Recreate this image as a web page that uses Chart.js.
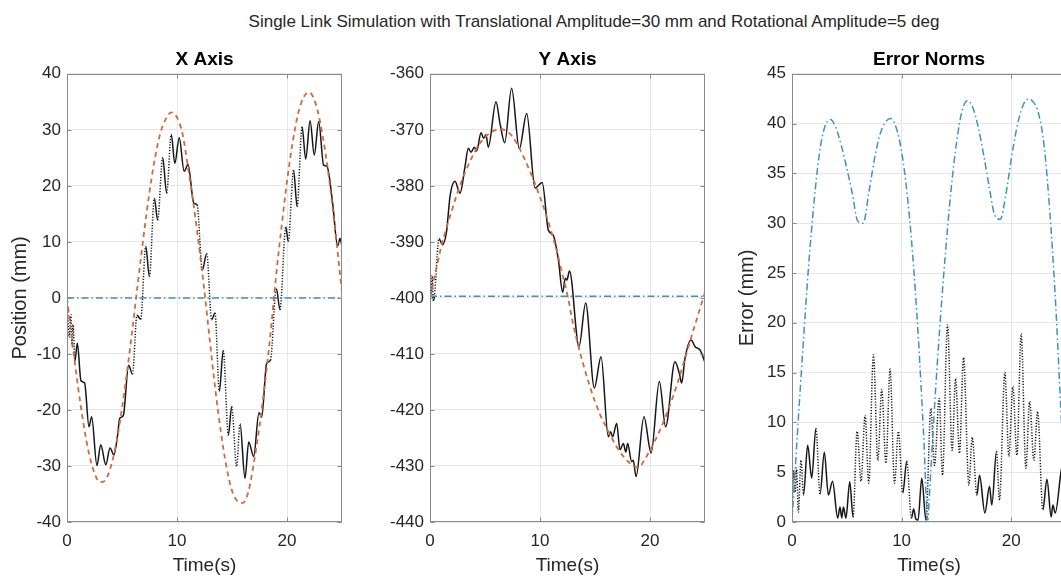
<!DOCTYPE html>
<html><head><meta charset="utf-8">
<script src="https://cdn.jsdelivr.net/npm/chart.js@4.4.1/dist/chart.umd.min.js"></script>
<style>
html,body{margin:0;padding:0;background:#fff;overflow:hidden;width:1061px;height:581px;}
#wrap{position:relative;width:1061px;height:581px;overflow:hidden;background:#fff;}
canvas{position:absolute;top:0;}
#suptitle{position:absolute;left:0;width:1188px;top:12px;line-height:20px;text-align:center;font-family:"Liberation Sans",Arial,sans-serif;font-size:17px;color:#262626;white-space:nowrap;}
</style></head>
<body><div id="wrap">
<div id="suptitle">Single Link Simulation with Translational Amplitude=30 mm and Rotational Amplitude=5 deg</div>
<canvas id="c1" width="350" height="581" style="left:0px"></canvas>
<canvas id="c2" width="355" height="581" style="left:360px"></canvas>
<canvas id="c3" width="376" height="581" style="left:700px"></canvas>
</div>
<script>
// ---------- tick labels ----------
const timeTicks = [0, 10, 20];
const xPosTicks = [-40, -30, -20, -10, 0, 10, 20, 30, 40];
const yPosTicks = [-440, -430, -420, -410, -400, -390, -380, -370, -360];
const errTicks = [0, 5, 10, 15, 20, 25, 30, 35, 40, 45];

// ---------- reference (orange dashed) sampled every 0.5 s ----------
const timeGrid = [0,0.5,1,1.5,2,2.5,3,3.5,4,4.5,5,5.5,6,6.5,7,7.5,8,8.5,9,9.5,10,10.5,11,11.5,12,12.5,13,13.5,14,14.5,15,15.5,16,16.5,17,17.5,18,18.5,19,19.5,20,20.5,21,21.5,22,22.5,23,23.5,24,24.5,25];
const xRefPos = [0,-8.2,-15.8,-22.5,-27.8,-31.3,-32.9,-32.5,-30.0,-25.7,-19.7,-12.6,-4.7,3.6,11.6,18.9,25.0,29.5,32.0,33.1,32.2,29.3,23.3,16.8,9.2,1.1,-7.9,-16.6,-24.1,-30.2,-34.4,-36.3,-36.6,-34.5,-29.3,-22.9,-15.1,-6.4,3.8,12.6,20.8,27.6,32.8,35.8,36.7,35.3,31.5,25.8,18.5,10.0,1.0];
const yRefPos = [-400,-395.5,-391,-387.5,-384.3,-381.2,-378.5,-376.2,-374.2,-372.5,-371.3,-370.5,-370.0,-369.9,-370.3,-371.2,-372.8,-374.8,-377.0,-379.4,-382.0,-384.8,-388.0,-391.4,-395.5,-399.5,-404.6,-408.7,-412.3,-415.6,-418.5,-421.0,-423.0,-424.9,-426.7,-428.1,-429.2,-430.0,-430.2,-428.9,-427.2,-425.3,-423.2,-420.8,-418.1,-415.2,-412.0,-408.7,-405.4,-402.2,-399.0];

// ---------- base position (blue dash-dot) ----------
const baseTime = [0, 25];
const xBasePos = [0, 0];
const yBasePos = [-399.7, -399.7];

// ---------- actual position (black) ----------
const xActualTime = [0,0.2,0.35,0.45,0.55,0.72,0.94,1.27,1.6,2.0,2.24,2.72,3.07,3.53,3.91,4.27,4.6,4.79,5.12,5.6,5.95,6.36,6.7,7.16,7.49,7.94,8.24,8.7,9.06,9.48,9.8,10.2,10.65,11.0,11.53,11.83,12.3,12.7,13.15,13.45,13.85,14.2,14.67,14.97,15.42,15.73,16.18,16.52,16.97,17.45,17.7,18.15,18.5,19.03,19.36,19.89,20.11,20.6,20.92,21.37,21.7,22.1,22.48,22.88,23.33,23.63,24.15,24.6,24.82,25];
const xActualPos = [0,-7,-3,-8.5,-4.8,-11.2,-8.1,-14.8,-15.2,-23.0,-21.2,-29.9,-26.2,-29.8,-26.8,-28.0,-24.5,-21.5,-21.0,-12.0,-13.6,-3.1,-3.8,9.2,3.8,17.8,13.9,25.0,18.7,29.2,24.0,28.6,22.6,23.8,16.9,16.6,5.0,7.9,-3.9,-2.7,-16.7,-9.4,-24.5,-19.4,-30.1,-22.4,-32.2,-25.7,-28.3,-20.5,-21.3,-11.7,-11.1,1.7,-2.1,12.7,10.1,22.8,16.3,30.5,24.8,31.6,25.5,31.5,23.7,23.5,16.9,9.3,10.6,9.1];
const yActualTime = [0,0.1,0.2,0.3,0.4,0.82,1.12,1.5,1.82,2.27,2.73,3.18,3.48,3.73,4.03,4.24,4.64,4.88,5.09,5.3,6.0,6.36,6.79,7.42,8.12,8.79,9.55,10.2,10.76,11.2,11.67,12.06,12.3,12.45,12.68,13.55,14.15,14.94,15.55,16.21,16.42,16.6,16.97,17.27,17.58,17.8,17.97,18.33,18.48,18.73,19.45,20.1,20.85,21.42,22.27,22.67,22.88,23.18,23.73,24.1,24.55,25];
const yActualPos = [-395.3,-399.5,-396.0,-400.5,-399.8,-389.4,-390.5,-388.2,-381.9,-379.2,-381.3,-376.6,-373.3,-374.0,-373.1,-373.8,-370.5,-371.5,-370.9,-373.1,-365.0,-368.8,-372.3,-362.6,-373.4,-367.1,-380.4,-379.4,-387.9,-388.8,-393.2,-399.0,-396.5,-396.8,-395.2,-408.7,-400.9,-416.1,-410.5,-424.8,-423.9,-424.8,-422.4,-427.1,-426.0,-427.5,-426.0,-429.2,-429.0,-431.9,-421.2,-427.7,-414.9,-423.0,-411.4,-413.5,-415.2,-410.8,-407.5,-408.7,-409.3,-411.5];

// ---------- error norms ----------
const errNormTime = [0,0.5,1,1.5,2,2.5,3,3.5,4,4.5,5,5.5,6,6.5,7,7.5,8,8.5,9,9.5,10,10.5,11,11.5,12,12.4,12.5,13,13.5,14,14.5,15,15.5,16,16.5,17,17.5,18,18.5,19,19.5,20,20.5,21,21.5,22,22.5,23,23.5,24,24.5,25];
const errNormRef = [0,9.0,17.5,25.5,32.0,37.0,39.7,40.4,39.6,37.8,35.5,33.0,30.2,30.0,33.0,36.3,38.8,40.1,40.5,39.6,37.2,33.0,27.0,19.0,9.0,0.2,2.0,11.5,19.8,27.0,33.2,38.0,41.2,42.3,41.6,39.6,36.8,33.6,30.8,30.4,32.8,36.4,39.5,41.6,42.45,42.2,41.0,37.8,31.5,23.0,12.0,0.5];
const errActualTime = [0,0.14,0.28,0.42,0.58,0.82,1.05,1.43,1.8,2.18,2.56,2.95,3.32,3.7,4.17,4.38,4.54,4.69,4.92,5.27,5.57,5.94,6.3,6.67,7.0,7.43,7.83,8.19,8.57,8.95,9.35,9.71,10.11,10.47,10.9,11.1,11.3,11.5,11.84,12.22,12.67,13.0,13.43,13.73,14.19,14.61,14.92,15.28,15.65,16.14,16.44,16.87,17.11,17.6,18.02,18.23,18.66,18.93,19.42,19.79,20.15,20.52,20.91,21.34,21.68,22.07,22.41,22.89,23.26,23.65,23.8,24.02,24.57,25];
const errActualNorm = [1.0,5.2,3.0,5.4,1.0,6.2,2.7,7.7,4.4,9.4,2.8,7.0,2.7,4.1,0.4,1.5,0.4,1.5,0.4,4.05,0.5,9.1,4.1,10.7,3.9,16.8,6.2,13.3,5.9,15.35,3.9,9.1,2.9,6.1,0.4,1.3,0.3,0.2,4.4,0.2,11.4,5.7,12.4,4.7,19.8,7.2,14.4,6.9,16.5,3.7,8.5,2.7,4.7,0.9,3.6,1.7,7.1,2.2,15.0,6.6,13.6,6.7,18.9,5.4,12.1,6.2,11.1,1.2,4.3,0.5,1.7,0.9,5.2,6.8];

// ---------- styling ----------
const TXT = '#262626';
const GRID = '#e6e6e6';
const ORANGE = '#d4693b';
const BLUE = '#3a93c6';
const BLACK = '#161616';
Chart.defaults.font.family = '"Liberation Sans", Arial, Helvetica, sans-serif';
Chart.defaults.color = TXT;

const pts = (xs, ys) => xs.map((x, i) => ({ x: x, y: ys[i] }));

const steepDotted = {
  borderDash: ctx => {
    const dx = Math.abs(ctx.p1.x - ctx.p0.x), dy = Math.abs(ctx.p1.y - ctx.p0.y);
    return dy > 12 * Math.max(dx, 0.5) ? [1.2, 1.6] : undefined;
  }
};

const boxPlugin = {
  id: 'matlabBox',
  afterDraw(chart) {
    const { ctx, chartArea: a, scales } = chart;
    const x = scales.x, y = scales.y;
    const L = Math.round(a.left) + 0.5, R = Math.round(a.right) - 0.5;
    const T = Math.round(a.top) + 0.5, B = Math.round(a.bottom) - 0.5;
    ctx.save();
    ctx.strokeStyle = '#8a8a8a';
    ctx.lineWidth = 1;
    ctx.strokeRect(L, T, R - L, B - T);
    ctx.beginPath();
    const k = 4;
    y.ticks.forEach(t => {
      const py = Math.round(y.getPixelForValue(t.value)) + 0.5;
      ctx.moveTo(L, py); ctx.lineTo(L + k, py);
      ctx.moveTo(R, py); ctx.lineTo(R - k, py);
    });
    x.ticks.forEach(t => {
      const px = Math.round(x.getPixelForValue(t.value)) + 0.5;
      ctx.moveTo(px, B); ctx.lineTo(px, B - k);
      ctx.moveTo(px, T); ctx.lineTo(px, T + k);
    });
    ctx.stroke();
    ctx.restore();
  }
};

function makeAxesChart(id, o) {
  return new Chart(document.getElementById(id), {
    type: 'line',
    data: { datasets: o.datasets },
    options: {
      responsive: false,
      animation: false,
      devicePixelRatio: 1,
      layout: { padding: { left: 0, right: o.rightPad, top: 0, bottom: 0 } },
      elements: { point: { radius: 0 }, line: { cubicInterpolationMode: 'monotone' } },
      plugins: {
        legend: { display: false },
        tooltip: { enabled: false },
        title: {
          display: true, text: o.title, fullSize: false, color: '#000',
          font: { size: 19, weight: 'bold' }, padding: { top: 48, bottom: 3 }
        }
      },
      scales: {
        x: {
          type: 'linear', min: 0, max: 25,
          afterBuildTicks: s => { s.ticks = timeTicks.map(v => ({ value: v })); },
          afterFit: s => { s.height = 59; },
          grid: { color: GRID, drawTicks: false },
          border: { display: false },
          ticks: { padding: 9, color: TXT, font: { size: 17 }, maxRotation: 0, autoSkip: false },
          title: { display: true, text: 'Time(s)', color: TXT, font: { size: 19 }, padding: { top: 0, bottom: 4 } }
        },
        y: {
          type: 'linear', min: o.yMin, max: o.yMax,
          afterBuildTicks: s => { s.ticks = o.yTicks.map(v => ({ value: v })); },
          afterFit: s => { s.width = o.yWidth; },
          grid: { color: GRID, drawTicks: false },
          border: { display: false },
          ticks: { padding: 6, color: TXT, font: { size: 17 }, autoSkip: false },
          title: { display: !!o.yTitle, text: o.yTitle || '', color: TXT, font: { size: 20 }, padding: { top: o.yTitlePad || 0, bottom: 0 } }
        }
      }
    },
    plugins: [boxPlugin]
  });
}

const blackLine = (data) => ({ data, borderColor: BLACK, borderWidth: 1.5, segment: steepDotted, order: 3 });
const orangeLine = (data) => ({ data, borderColor: ORANGE, borderWidth: 1.8, borderDash: [5, 4], order: 2 });
const blueLine = (data) => ({ data, borderColor: BLUE, borderWidth: 1.5, borderDash: [7, 3, 1.5, 3], order: 1 });

makeAxesChart('c1', {
  title: 'X Axis', yMin: -40, yMax: 40, yTicks: xPosTicks, yWidth: 67, rightPad: 8,
  yTitle: 'Position (mm)', yTitlePad: 8,
  datasets: [
    blackLine(pts(xActualTime, xActualPos)),
    orangeLine(pts(timeGrid, xRefPos)),
    blueLine(pts(baseTime, xBasePos))
  ]
});

makeAxesChart('c2', {
  title: 'Y Axis', yMin: -440, yMax: -360, yTicks: yPosTicks, yWidth: 70, rightPad: 10,
  datasets: [
    blackLine(pts(yActualTime, yActualPos)),
    orangeLine(pts(timeGrid, yRefPos)),
    blueLine(pts(baseTime, yBasePos))
  ]
});

makeAxesChart('c3', {
  title: 'Error Norms', yMin: 0, yMax: 45, yTicks: errTicks, yWidth: 92, rightPad: 10,
  yTitle: 'Error (mm)', yTitlePad: 35,
  datasets: [
    Object.assign(blackLine(pts(errActualTime, errActualNorm)), { order: 2 }),
    blueLine(pts(errNormTime, errNormRef))
  ]
});
</script>
</body></html>
